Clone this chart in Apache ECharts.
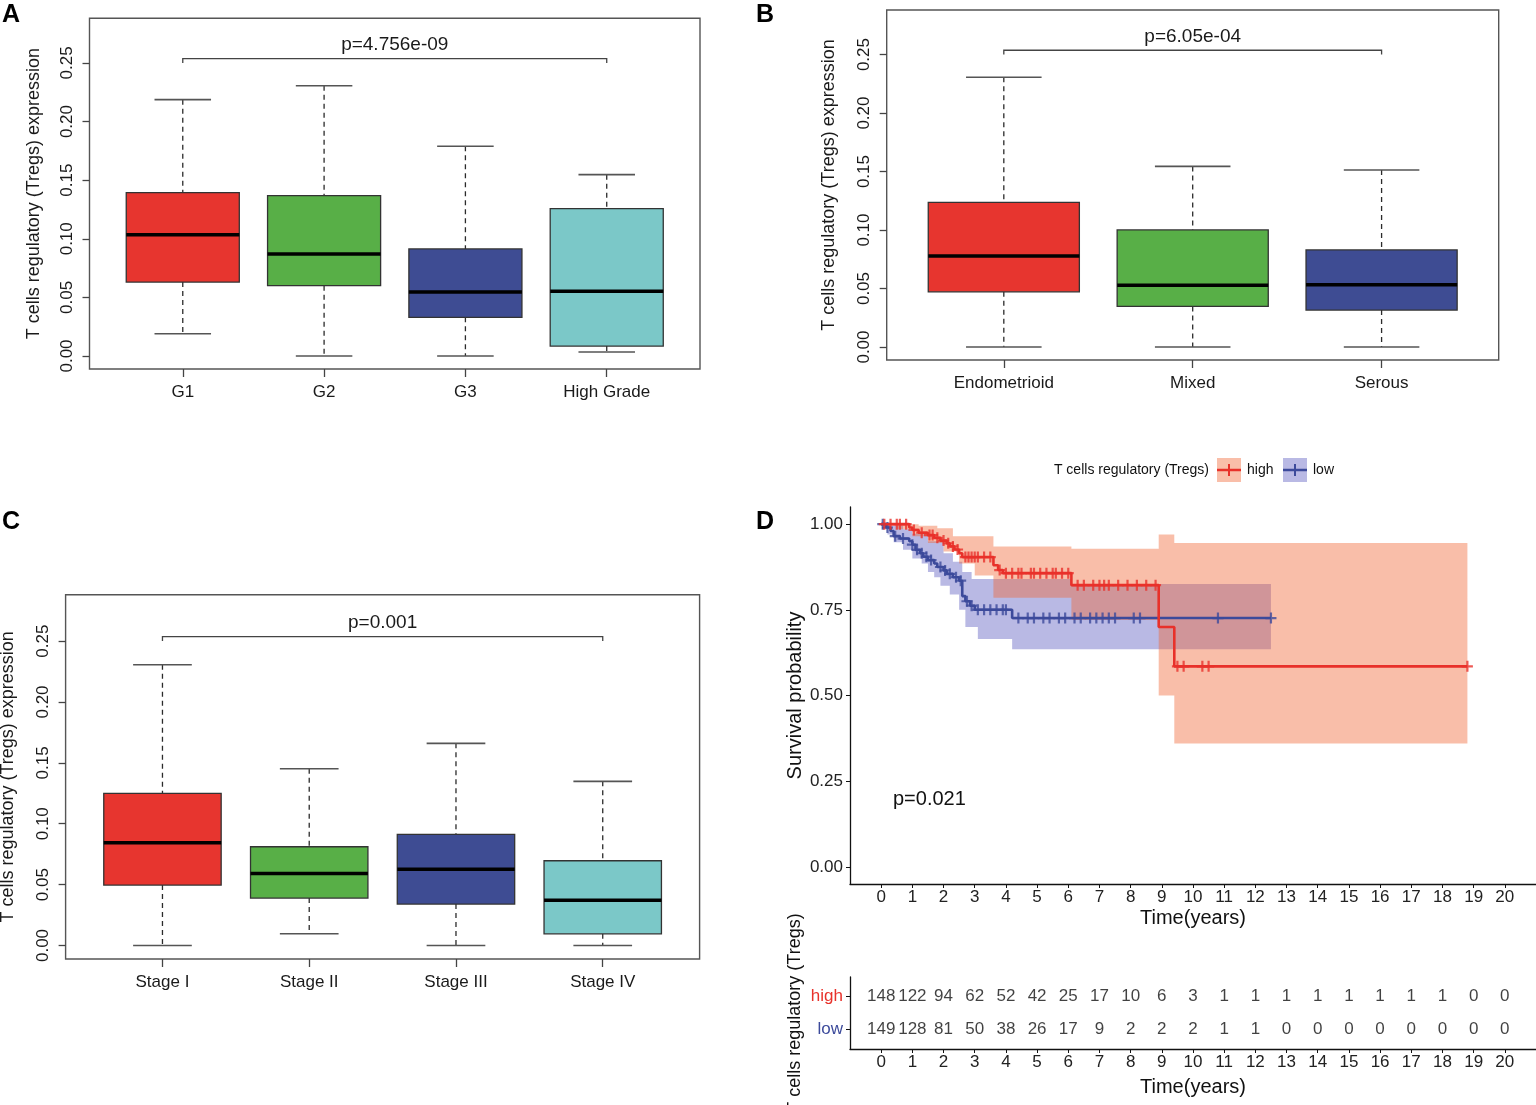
<!DOCTYPE html>
<html>
<head>
<meta charset="utf-8">
<script src="https://cdn.jsdelivr.net/npm/echarts@6/dist/echarts.min.js"></script>
<style>
  html, body { margin: 0; padding: 0; background: #fff; }
  #chart { width: 1536px; height: 1105px; }
</style>
</head>
<body>
<div id="chart"></div>
<script>
const FONT = '"Liberation Sans", Arial, sans-serif'

// box colours (R palette used in the figure)
const boxColors = ['#E7352F', '#58AF47', '#3E4C93', '#7BC8C8']

// panel A - grade. each row: [lower whisker, Q1, median, Q3, upper whisker]
const gradeCats = ['G1', 'G2', 'G3', 'High Grade']
const gradeBox = [
  [0.019, 0.0631, 0.1035, 0.1393, 0.2187],
  [0.000, 0.0600, 0.0870, 0.1368, 0.2306],
  [0.000, 0.0330, 0.0546, 0.0913, 0.1789],
  [0.0034, 0.0085, 0.0552, 0.1257, 0.1547]
]

// panel B - histology
const histCats = ['Endometrioid', 'Mixed', 'Serous']
const histBox = [
  [0.000, 0.0472, 0.0779, 0.1237, 0.2306],
  [0.000, 0.0347, 0.0529, 0.1001, 0.1544],
  [0.000, 0.0316, 0.0532, 0.0830, 0.1513]
]

// panel C - stage
const stageCats = ['Stage I', 'Stage II', 'Stage III', 'Stage IV']
const stageBox = [
  [0.000, 0.0496, 0.0844, 0.1249, 0.2306],
  [0.0096, 0.0389, 0.0592, 0.0811, 0.1452],
  [0.000, 0.0340, 0.0627, 0.0912, 0.1660],
  [0.000, 0.0096, 0.0372, 0.0696, 0.1348]
]

const pLabels = ['p=4.756e-09', 'p=6.05e-04', 'p=0.001']
const boxTicks = [0, 0.05, 0.10, 0.15, 0.20, 0.25]

// panel D - Kaplan-Meier
const highT = [0, 0.9, 1.0, 1.2, 1.5, 1.7, 1.9, 2.1, 2.2, 2.35, 2.5, 2.6, 3.6, 3.75, 3.9, 6.1, 8.9, 9.4, 18.8]
const highS = [1.0, 0.99, 0.983, 0.975, 0.968, 0.96, 0.952, 0.944, 0.935, 0.926, 0.915, 0.904, 0.88, 0.866, 0.857, 0.822, 0.70, 0.585, 0.585]
const lowT = [0, 0.15, 0.3, 0.4, 0.6, 0.9, 1.0, 1.1, 1.25, 1.35, 1.5, 1.7, 1.8, 2.0, 2.1, 2.3, 2.5, 2.6, 2.7, 2.85, 3.0, 4.2, 12.5]
const lowS = [1.0, 0.99, 0.98, 0.965, 0.958, 0.95, 0.94, 0.925, 0.915, 0.905, 0.895, 0.885, 0.875, 0.865, 0.855, 0.845, 0.835, 0.79, 0.775, 0.762, 0.75, 0.726, 0.726]

// confidence bands (step functions)
const highUpT = [0, 1.2, 1.8, 2.3, 3.6, 6.1, 8.9, 9.4, 18.8]
const highUpS = [1.0, 0.995, 0.988, 0.965, 0.935, 0.928, 0.97, 0.945, 0.945]
const highLoT = [0, 0.5, 1.0, 1.5, 2.0, 2.5, 3.0, 3.6, 6.1, 8.9, 9.4, 18.8]
const highLoS = [1.0, 0.985, 0.965, 0.945, 0.92, 0.885, 0.85, 0.785, 0.72, 0.50, 0.36, 0.36]
const lowUpT = [0, 0.3, 0.7, 1.0, 1.5, 2.0, 2.3, 2.6, 2.9, 6.1, 12.5]
const lowUpS = [1.0, 0.995, 0.985, 0.972, 0.95, 0.915, 0.89, 0.86, 0.84, 0.825, 0.825]
const lowLoT = [0, 0.2, 0.4, 0.7, 1.0, 1.3, 1.5, 1.7, 1.9, 2.2, 2.5, 2.7, 3.1, 4.2, 12.5]
const lowLoS = [1.0, 0.97, 0.947, 0.925, 0.9, 0.885, 0.86, 0.845, 0.82, 0.795, 0.75, 0.70, 0.665, 0.635, 0.635]

// censored times
const highCens = [0.1, 0.3, 0.5, 0.6, 0.8, 1.05, 1.3, 1.55, 1.65, 1.8, 2.0, 2.15, 2.3, 2.45, 2.7, 2.8, 2.9, 3.0, 3.1, 3.3, 3.5, 3.8, 4.0, 4.2, 4.4, 4.5, 4.8, 4.9, 5.1, 5.3, 5.5, 5.6, 5.8, 6.0, 6.3, 6.5, 6.8, 7.0, 7.15, 7.3, 7.6, 7.9, 8.2, 8.5, 8.8, 9.5, 9.7, 10.3, 10.5, 18.8]
const lowCens = [0.05, 0.2, 0.45, 0.7, 1.0, 1.15, 1.3, 1.45, 1.6, 1.9, 2.05, 2.2, 2.4, 2.55, 2.75, 2.9, 3.1, 3.3, 3.5, 3.7, 3.9, 4.0, 4.4, 4.7, 4.9, 5.2, 5.4, 5.7, 5.9, 6.2, 6.4, 6.7, 6.9, 7.1, 7.3, 7.5, 8.1, 8.3, 10.8, 12.5]

// number at risk
const riskT = [0, 1, 2, 3, 4, 5, 6, 7, 8, 9, 10, 11, 12, 13, 14, 15, 16, 17, 18, 19, 20]
const riskHigh = [148, 122, 94, 62, 52, 42, 25, 17, 10, 6, 3, 1, 1, 1, 1, 1, 1, 1, 1, 0, 0]
const riskLow = [149, 128, 81, 50, 38, 26, 17, 9, 2, 2, 2, 1, 1, 0, 0, 0, 0, 0, 0, 0, 0]
const survTicks = [0, 0.25, 0.5, 0.75, 1]

const RED = '#E8312A'
const BLUE = '#3C4A9B'
const RED_BAND = 'rgba(240,100,50,0.42)'
const BLUE_BAND = 'rgba(70,70,185,0.38)'

function survAt(ts, ss, t) {
  let v = ss[0]
  for (let i = 0; i < ts.length; i++) if (ts[i] <= t) v = ss[i]
  return v
}

function stepPts(ts, vs) {
  const pts = []
  for (let i = 0; i < ts.length; i++) {
    pts.push([ts[i], vs[i]])
    if (i < ts.length - 1) pts.push([ts[i + 1], vs[i]])
  }
  return pts
}

// R style boxplot drawn through the cartesian scales
function renderBox(params, api) {
  const x = api.value(0)
  const p = k => api.coord([x, api.value(k)])
  const lo = p(1), q1 = p(2), md = p(3), q3 = p(4), hi = p(5)
  const cx = lo[0]
  const half = api.size([0.8, 0])[0] / 2
  const cap = api.size([0.4, 0])[0] / 2
  const dash = { stroke: '#2b2b2b', lineWidth: 1.3, lineDash: [5, 4] }
  const solid = { stroke: '#555', lineWidth: 1.6 }
  return {
    type: 'group',
    children: [
      { type: 'line', shape: { x1: cx, y1: hi[1], x2: cx, y2: q3[1] }, style: dash },
      { type: 'line', shape: { x1: cx, y1: q1[1], x2: cx, y2: lo[1] }, style: dash },
      { type: 'line', shape: { x1: cx - cap, y1: hi[1], x2: cx + cap, y2: hi[1] }, style: solid },
      { type: 'line', shape: { x1: cx - cap, y1: lo[1], x2: cx + cap, y2: lo[1] }, style: solid },
      { type: 'rect', shape: { x: cx - half, y: q3[1], width: half * 2, height: q1[1] - q3[1] },
        style: { fill: api.visual('color'), stroke: '#333', lineWidth: 1.3 } },
      { type: 'line', shape: { x1: cx - half, y1: md[1], x2: cx + half, y2: md[1] },
        style: { stroke: '#000', lineWidth: 3.5 } }
    ]
  }
}

function bracketRender(text) {
  return function (params, api) {
    const a = api.coord([api.value(0), api.value(2)])
    const b = api.coord([api.value(1), api.value(2)])
    const ea = api.coord([api.value(0), api.value(3)])
    return {
      type: 'group',
      children: [
        { type: 'polyline', shape: { points: [[a[0], ea[1]], a, b, [b[0], ea[1]]] },
          style: { stroke: '#444', lineWidth: 1.3, fill: null } },
        { type: 'text', style: { text: text, x: (a[0] + b[0]) / 2, y: a[1] - 4, align: 'center',
          verticalAlign: 'bottom', fontSize: 19, fontFamily: FONT, fill: '#1a1a1a' } }
      ]
    }
  }
}

function bandRender(upT, upS, loT, loS, fill) {
  return function (params, api) {
    const pts = stepPts(upT, upS).concat(stepPts(loT, loS).reverse()).map(p => api.coord(p))
    return { type: 'polygon', shape: { points: pts }, style: { fill: fill } }
  }
}

function boxAxes(idx, cats, xmin, xmax) {
  const xAxis = {
    gridIndex: idx, type: 'value', min: xmin, max: xmax,
    axisLine: { show: false, onZero: false }, splitLine: { show: false },
    axisTick: { show: true, length: 8, customValues: cats.map((c, i) => i + 1), lineStyle: { color: '#444', width: 1.3 } },
    axisLabel: { customValues: cats.map((c, i) => i + 1), formatter: v => cats[Math.round(v) - 1],
      fontSize: 17, fontFamily: FONT, color: '#1a1a1a', margin: 15 }
  }
  const yAxis = {
    gridIndex: idx, type: 'value', min: -0.0111, max: 0.2881,
    name: 'T cells regulatory (Tregs) expression', nameLocation: 'middle', nameGap: 46,
    nameTextStyle: { fontSize: 18, fontFamily: FONT, color: '#1a1a1a' },
    axisLine: { show: false, onZero: false }, splitLine: { show: false },
    axisTick: { show: true, length: 7, customValues: boxTicks, lineStyle: { color: '#444', width: 1.3 } },
    axisLabel: { customValues: boxTicks, formatter: v => v.toFixed(2), rotate: 90,
      fontSize: 17, fontFamily: FONT, color: '#1a1a1a', margin: 14 }
  }
  return [xAxis, yAxis]
}

function boxSeries(idx, boxes) {
  return {
    type: 'custom', xAxisIndex: idx, yAxisIndex: idx, renderItem: renderBox,
    data: boxes.map((b, i) => ({ value: [i + 1].concat(b), itemStyle: { color: boxColors[i] } }))
  }
}

const aAx = boxAxes(0, gradeCats, 0.34, 4.66)
const bAx = boxAxes(1, histCats, 0.38, 3.62)
const cAx = boxAxes(2, stageCats, 0.34, 4.66)
bAx[1].nameGap = 49
cAx[1].nameGap = 49

const survX = gi => ({
  gridIndex: gi, type: 'value', min: -1, max: 21,
  name: 'Time(years)', nameLocation: 'middle', nameGap: gi === 3 ? 24 : 28,
  nameTextStyle: { fontSize: 20, fontFamily: FONT, color: '#111' },
  axisLine: { show: true, onZero: false, lineStyle: { color: '#111', width: 1.3 } },
  splitLine: { show: false },
  axisTick: { show: true, length: 4, customValues: riskT, lineStyle: { color: '#111' } },
  axisLabel: { customValues: riskT, fontSize: 17, fontFamily: FONT, color: '#222', margin: 5 }
})

const gridBase = { outerBoundsMode: 'none', containLabel: false }

const option = {
  animation: false,
  backgroundColor: '#fff',
  grid: [
    Object.assign({ left: 89.5, top: 18.3, width: 610.5, height: 350.7, show: true, borderColor: '#555', borderWidth: 1.4, backgroundColor: 'transparent' }, gridBase),
    Object.assign({ left: 886.7, top: 10, width: 612, height: 350, show: true, borderColor: '#555', borderWidth: 1.4, backgroundColor: 'transparent' }, gridBase),
    Object.assign({ left: 65.6, top: 594.7, width: 634, height: 364.3, show: true, borderColor: '#555', borderWidth: 1.4, backgroundColor: 'transparent' }, gridBase),
    Object.assign({ left: 850, top: 507, width: 686, height: 377 }, gridBase),
    Object.assign({ left: 850, top: 977, width: 686, height: 72 }, gridBase)
  ],
  xAxis: [aAx[0], bAx[0], cAx[0], survX(3), survX(4)],
  yAxis: [aAx[1], bAx[1], cAx[1],
    {
      gridIndex: 3, type: 'value', min: -0.05, max: 1.05,
      name: 'Survival probability', nameLocation: 'middle', nameGap: 45,
      nameTextStyle: { fontSize: 20, fontFamily: FONT, color: '#111' },
      axisLine: { show: true, onZero: false, lineStyle: { color: '#111', width: 1.3 } },
      splitLine: { show: false },
      axisTick: { show: true, length: 4, customValues: survTicks, lineStyle: { color: '#111' } },
      axisLabel: { customValues: survTicks, formatter: v => v.toFixed(2), fontSize: 17, fontFamily: FONT, color: '#222', margin: 7 }
    },
    {
      gridIndex: 4, type: 'value', min: 0.4, max: 2.6,
      name: 'T cells regulatory (Tregs)', nameLocation: 'middle', nameGap: 46,
      nameTextStyle: { fontSize: 18, fontFamily: FONT, color: '#111' },
      axisLine: { show: true, onZero: false, lineStyle: { color: '#111', width: 1.3 } },
      splitLine: { show: false },
      axisTick: { show: true, length: 4, customValues: [1, 2], lineStyle: { color: '#111' } },
      axisLabel: {
        customValues: [1, 2], margin: 7,
        formatter: v => (Math.round(v) === 2 ? '{h|high}' : '{l|low}'),
        rich: {
          h: { color: RED, fontSize: 17, fontFamily: FONT },
          l: { color: BLUE, fontSize: 17, fontFamily: FONT }
        }
      }
    }
  ],
  series: [
    boxSeries(0, gradeBox),
    boxSeries(1, histBox),
    boxSeries(2, stageBox),
    { type: 'custom', xAxisIndex: 0, yAxisIndex: 0, renderItem: bracketRender(pLabels[0]), data: [[1, 4, 0.2537, 0.25]] },
    { type: 'custom', xAxisIndex: 1, yAxisIndex: 1, renderItem: bracketRender(pLabels[1]), data: [[1, 3, 0.2537, 0.25]] },
    { type: 'custom', xAxisIndex: 2, yAxisIndex: 2, renderItem: bracketRender(pLabels[2]), data: [[1, 4, 0.2537, 0.25]] },
    // bands
    { type: 'custom', xAxisIndex: 3, yAxisIndex: 3, z: 1, renderItem: bandRender(lowUpT, lowUpS, lowLoT, lowLoS, BLUE_BAND), data: [[0]] },
    { type: 'custom', xAxisIndex: 3, yAxisIndex: 3, z: 1, renderItem: bandRender(highUpT, highUpS, highLoT, highLoS, RED_BAND), data: [[0]] },
    // curves
    { name: 'low', type: 'line', xAxisIndex: 3, yAxisIndex: 3, step: 'end', showSymbol: false, z: 3,
      lineStyle: { color: BLUE, width: 2.6 }, data: lowT.map((t, i) => [t, lowS[i]]) },
    { name: 'high', type: 'line', xAxisIndex: 3, yAxisIndex: 3, step: 'end', showSymbol: false, z: 4,
      lineStyle: { color: RED, width: 2.6 }, data: highT.map((t, i) => [t, highS[i]]) },
    // censor marks
    { type: 'scatter', xAxisIndex: 3, yAxisIndex: 3, z: 5, symbol: 'path://M4,0h2v4h4v2h-4v4h-2v-4h-4v-2h4z', symbolSize: 11,
      itemStyle: { color: BLUE }, data: lowCens.map(t => [t, survAt(lowT, lowS, t)]) },
    { type: 'scatter', xAxisIndex: 3, yAxisIndex: 3, z: 6, symbol: 'path://M4,0h2v4h4v2h-4v4h-2v-4h-4v-2h4z', symbolSize: 11,
      itemStyle: { color: RED }, data: highCens.map(t => [t, survAt(highT, highS, t)]) },
    // risk table
    { type: 'scatter', xAxisIndex: 4, yAxisIndex: 4, symbolSize: 0,
      label: { show: true, position: 'inside', formatter: p => String(p.value[2]), fontSize: 17, fontFamily: FONT, color: '#111' },
      data: riskT.map((t, i) => [t, 2, riskHigh[i]]) },
    { type: 'scatter', xAxisIndex: 4, yAxisIndex: 4, symbolSize: 0,
      label: { show: true, position: 'inside', formatter: p => String(p.value[2]), fontSize: 17, fontFamily: FONT, color: '#111' },
      data: riskT.map((t, i) => [t, 1, riskLow[i]]) }
  ],
  graphic: [
    { type: 'text', left: 2, top: 3, style: { text: 'A', fontSize: 25, fontWeight: 'bold', fontFamily: FONT, fill: '#000' } },
    { type: 'text', left: 756, top: 3, style: { text: 'B', fontSize: 25, fontWeight: 'bold', fontFamily: FONT, fill: '#000' } },
    { type: 'text', left: 2, top: 510, style: { text: 'C', fontSize: 25, fontWeight: 'bold', fontFamily: FONT, fill: '#000' } },
    { type: 'text', left: 756, top: 510, style: { text: 'D', fontSize: 25, fontWeight: 'bold', fontFamily: FONT, fill: '#000' } },
    { type: 'text', x: 893, y: 799, style: { text: 'p=0.021', fontSize: 20, fontFamily: FONT, fill: '#111', verticalAlign: 'middle' } },
    // legend
    { type: 'text', x: 1209, y: 470, style: { text: 'T cells regulatory (Tregs)', fontSize: 14, fontFamily: FONT, fill: '#111', align: 'right', verticalAlign: 'middle' } },
    { type: 'rect', shape: { x: 1217, y: 458, width: 24, height: 24 }, style: { fill: RED_BAND } },
    { type: 'line', shape: { x1: 1217, y1: 470, x2: 1241, y2: 470 }, style: { stroke: RED, lineWidth: 2.5 } },
    { type: 'line', shape: { x1: 1229, y1: 464, x2: 1229, y2: 476 }, style: { stroke: RED, lineWidth: 2 } },
    { type: 'text', x: 1247, y: 470, style: { text: 'high', fontSize: 14, fontFamily: FONT, fill: '#111', verticalAlign: 'middle' } },
    { type: 'rect', shape: { x: 1283, y: 458, width: 24, height: 24 }, style: { fill: BLUE_BAND } },
    { type: 'line', shape: { x1: 1283, y1: 470, x2: 1307, y2: 470 }, style: { stroke: BLUE, lineWidth: 2.5 } },
    { type: 'line', shape: { x1: 1295, y1: 464, x2: 1295, y2: 476 }, style: { stroke: BLUE, lineWidth: 2 } },
    { type: 'text', x: 1313, y: 470, style: { text: 'low', fontSize: 14, fontFamily: FONT, fill: '#111', verticalAlign: 'middle' } }
  ]
}

const chart = echarts.init(document.getElementById('chart'), null, { renderer: 'canvas' })
chart.setOption(option)
</script>
</body>
</html>
